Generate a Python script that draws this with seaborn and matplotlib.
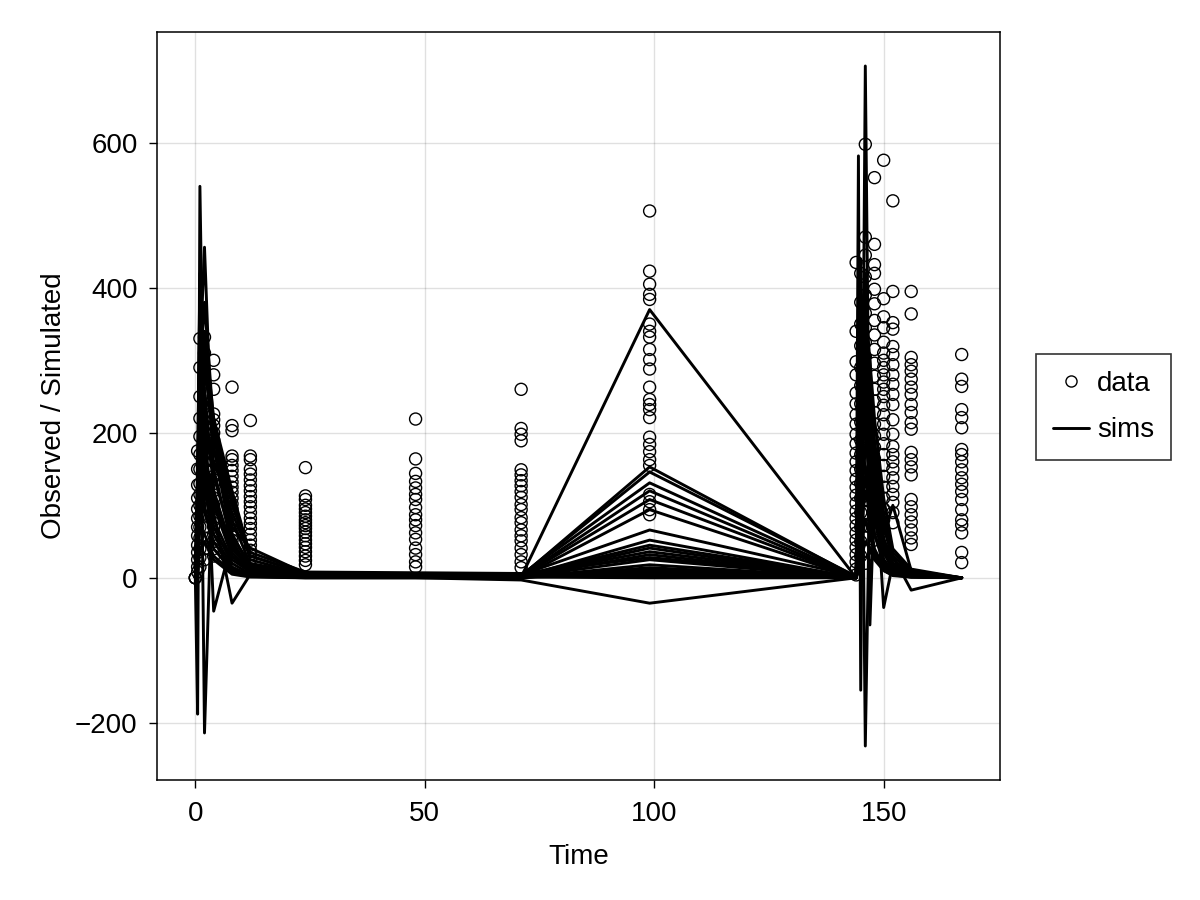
import numpy as np
import pandas as pd
import matplotlib
matplotlib.use("Agg")
import matplotlib.pyplot as plt
import seaborn as sns
from matplotlib.lines import Line2D
from matplotlib.ticker import MultipleLocator

# --- observed data, one list per sampling time ---
obs_t0 = [0, 0, 0]
obs_t05 = [175, 150, 128, 110, 95, 82, 70, 58, 45, 35, 25, 15, 8]
obs_t1 = [330, 290, 250, 220, 195, 170, 150, 130, 115, 100, 85, 70, 55, 40, 28, 15]
obs_t2 = [332, 310, 270, 240, 210, 185, 160, 140, 120, 100, 85, 70, 55, 40, 25]
obs_t4 = [300, 280, 260, 226, 218, 210, 200, 190, 180, 170, 160, 150, 140, 130,
          120, 110, 100, 90, 80, 70, 60, 50, 40, 30]
obs_t8 = [263, 210, 203, 168, 163, 155, 148, 140, 132, 125, 118, 110, 102, 95,
          88, 80, 72, 65, 58, 52]
obs_t12 = [217, 168, 163, 150, 143, 135, 127, 120, 112, 105, 98, 90, 82, 75, 68,
           60, 52, 45, 38, 32, 26]
obs_t24 = [152, 113, 108, 100, 95, 90, 85, 80, 76, 72, 68, 63, 58, 52, 47, 42,
           36, 30, 24, 18]
obs_t48 = [219, 164, 144, 133, 124, 115, 108, 97, 87, 80, 72, 62, 53, 41, 32, 22, 15]
obs_t71 = [260, 206, 198, 189, 149, 142, 134, 127, 119, 111, 101, 94, 83, 76, 66,
           58, 51, 41, 32, 22, 14]
obs_t99 = [506, 423, 405, 391, 384, 350, 340, 332, 315, 301, 288, 263, 246, 239,
           232, 221, 194, 184, 174, 163, 155, 115, 105, 94, 87]
obs_t144 = [435, 340, 298, 280, 255, 240, 225, 212, 198, 185, 172, 160, 148, 136,
            125, 114, 103, 92, 82, 72, 62, 52, 42, 32, 22, 12, 4]
obs_t145 = [420, 380, 350, 320, 290, 265, 240, 215, 190, 170, 150, 130, 110, 90,
            70, 50, 30]
obs_t146 = [598, 470, 445, 415, 390, 365, 345, 325, 305, 285, 265, 248, 230, 212,
            195, 178, 160, 142, 125, 108, 90, 72, 55, 38, 20]
obs_t148 = [552, 460, 432, 420, 398, 378, 355, 335, 315, 296, 278, 260, 244, 228,
            212, 196, 180, 164, 148, 132, 116, 100, 84, 68, 52]
obs_t150 = [576, 385, 360, 345, 325, 310, 300, 290, 280, 270, 260, 250, 238, 225,
            212, 198, 185, 170, 155, 140, 125, 110, 95, 80, 65]
obs_t152 = [520, 395, 352, 343, 319, 308, 294, 280, 267, 253, 239, 218, 198, 181,
            170, 160, 150, 138, 126, 115, 104, 90, 76]
obs_t156 = [395, 364, 304, 294, 285, 274, 263, 253, 239, 228, 214, 205, 173, 163,
            153, 142, 108, 98, 87, 77, 66, 55, 46]
obs_t167 = [308, 274, 264, 232, 221, 207, 177, 170, 160, 149, 138, 129, 119, 108,
            94, 80, 73, 62, 35, 21]

obs_times = [0, 0.5, 1, 2, 4, 8, 12, 24, 48, 71, 99, 144, 145, 146, 148, 150, 152, 156, 167]
obs_lists = [obs_t0, obs_t05, obs_t1, obs_t2, obs_t4, obs_t8, obs_t12, obs_t24,
             obs_t48, obs_t71, obs_t99, obs_t144, obs_t145, obs_t146, obs_t148,
             obs_t150, obs_t152, obs_t156, obs_t167]

# --- simulated trajectories ---
sim_times = [0, 0.5, 1, 2, 4, 8, 12, 24, 48, 71, 99,
             144, 144.5, 145, 146, 147, 148, 150, 152, 156, 167]
sim_01 = [0, -188, 540, 140, 80, 25, 8, 3, 2, 1, 370, 0, 582, -155, 706, 70, 30, 10, 4, 2, 0]
sim_02 = [0, 120, 300, 456, 120, 30, 10, 4, 3, 2, 153, 1, 250, 440, -232, 150, 80, 25, 8, 3, 0]
sim_03 = [0, 90, 380, -214, 200, 60, 15, 5, 4, 3, 146, 2, 150, 300, 420, -65, 120, 40, 10, 4, 0]
sim_04 = [0, 60, 250, 320, 180, 70, 41, 6, 5, 4, 131, 1, 100, 250, 380, 300, 160, -41, 20, 5, 0]
sim_05 = [0, 150, 420, 260, 120, 40, 12, 4, 3, 2, 120, 0, 200, 380, 300, 200, 110, 50, 30, -17, 0]
sim_06 = [0, 40, 180, 240, -46, 50, 10, 3, 3, 2, 108, 0, 80, 200, 350, 260, 150, 70, 25, 6, 0]
sim_07 = [0, 80, 220, 150, 90, -35, 5, 2, 2, 1, 94, 0, 60, 150, 280, 220, 140, 60, 100, 10, 0]
sim_08 = [0, 110, 340, 200, 160, 90, 30, 6, 5, 4, 66, 2, 120, 260, 200, 140, 90, 40, 15, 5, 0]
sim_09 = [0, 30, 150, 180, 100, 30, 8, 2, 2, 1, 52, 0, 40, 120, 240, 180, 100, 45, 15, 4, 0]
sim_10 = [0, 70, 260, 210, 140, 55, 20, 5, 4, 3, 45, 1, 90, 220, 320, 240, 130, 55, 20, 6, 0]
sim_11 = [0, 20, 120, 160, 200, 110, 25, 4, 3, 2, 41, 0, 30, 90, 180, 220, 170, 80, 30, 8, 0]
sim_12 = [0, 50, 200, 280, 220, 80, 18, 5, 4, 3, 36, 1, 70, 180, 260, 200, 120, 50, 18, 5, 0]
sim_13 = [0, 10, 90, 130, 70, 20, 5, 1, 1, 1, 32, 0, 20, 60, 120, 90, 60, 25, 8, 2, 0]
sim_14 = [0, 130, 310, 120, 60, 15, 3, 1, 1, 1, 25, 0, 160, 330, 220, 120, 60, 20, 6, 2, 0]
sim_15 = [0, 100, 200, 100, 40, 10, 2, 1, 1, 0, 18, 0, 110, 200, 150, 80, 40, 15, 5, 1, 0]
sim_16 = [0, 45, 160, 220, 150, 45, 12, 3, 2, 2, 11, 0, 50, 140, 230, 190, 110, 45, 15, 4, 0]
sim_17 = [0, 25, 110, 90, 50, 12, 4, 1, 1, 1, 4, 0, 35, 80, 140, 100, 60, 25, 8, 2, 0]
sim_18 = [0, 60, 230, 340, 220, 100, 35, 8, 7, 6, 28, 1, 75, 190, 300, 280, 190, 90, 35, 10, 0]
sim_19 = [0, 15, 70, 60, 30, 8, 2, 0, 0, 0, 14, 0, 15, 45, 80, 60, 35, 12, 4, 1, 0]
sim_20 = [0, 140, 400, 300, 180, 50, 10, 3, 2, 1, 8, 0, 190, 400, 330, 180, 90, 35, 12, 3, 0]
sim_21 = [0, 35, 140, 250, 220, 120, 30, 6, 5, 4, 2, 1, 45, 130, 260, 300, 220, 110, 40, 12, 0]
sim_22 = [0, 5, 40, 50, 25, 5, 1, 0, 0, -3, -35, 0, 8, 25, 50, 40, 25, 10, 3, 1, 0]
sim_23 = [0, 85, 280, 380, 210, 60, 14, 4, 3, 2, 6, 0, 130, 290, 400, 250, 130, 50, 18, 5, 0]
sim_24 = [0, 55, 190, 150, 110, 35, 9, 2, 2, 1, 0, 0, 65, 170, 210, 150, 85, 35, 12, 3, 0]
sim_lists = [sim_01, sim_02, sim_03, sim_04, sim_05, sim_06, sim_07, sim_08,
             sim_09, sim_10, sim_11, sim_12, sim_13, sim_14, sim_15, sim_16,
             sim_17, sim_18, sim_19, sim_20, sim_21, sim_22, sim_23, sim_24]

# long-format tables for seaborn
obs_df = pd.DataFrame([(t, v) for t, vals in zip(obs_times, obs_lists) for v in vals],
                      columns=["time", "value"])
sim_df = pd.DataFrame([(i, t, v) for i, vals in enumerate(sim_lists)
                       for t, v in zip(sim_times, vals)],
                      columns=["sim", "time", "value"])

sns.set_theme(style="white")
plt.rcParams['font.family'] = ['Liberation Sans', 'DejaVu Sans']
plt.rcParams['text.color'] = 'black'
plt.rcParams['axes.labelcolor'] = 'black'
FS = 20

fig = plt.figure(figsize=(12, 9), dpi=100)
ax = fig.add_axes([157/1200, 120/900, 843/1200, 748/900])

sns.scatterplot(data=obs_df, x="time", y="value", ax=ax, marker="o", s=75,
                facecolor="none", edgecolor="black", linewidth=1.0, zorder=2)
sns.lineplot(data=sim_df, x="time", y="value", units="sim", estimator=None,
             sort=False, color="black", lw=2.1, ax=ax, legend=False, zorder=3)

ax.margins(0.05)
ax.xaxis.set_major_locator(MultipleLocator(50))
ax.yaxis.set_major_locator(MultipleLocator(200))
ax.grid(True, color="black", alpha=0.12, lw=1)
ax.set_axisbelow(True)
for sp in ax.spines.values():
    sp.set_color("black")
    sp.set_linewidth(1.1)
ax.tick_params(direction="out", length=6, width=1, colors="black", labelsize=FS, pad=8,
               left=True, bottom=True)
ax.tick_params(axis="x", pad=9)
ax.set_xlabel("Time", fontsize=FS, labelpad=12, color="black")
ax.set_ylabel("Observed / Simulated", fontsize=FS, labelpad=6, color="black")

handles = [Line2D([], [], marker="o", ls="none", mfc="none", mec="black", ms=8, mew=1.0),
           Line2D([], [], color="black", lw=2.1)]
leg = fig.legend(handles, ["data", "sims"], loc="center left",
                 bbox_to_anchor=(1036/1200, 493/900), fontsize=FS, frameon=True,
                 fancybox=False, handlelength=1.3, handletextpad=0.3,
                 borderpad=0.6, labelspacing=0.75, borderaxespad=0)
leg.get_frame().set_edgecolor("black")
leg.get_frame().set_linewidth(1.2)

fig.savefig("out.png", dpi=100)
